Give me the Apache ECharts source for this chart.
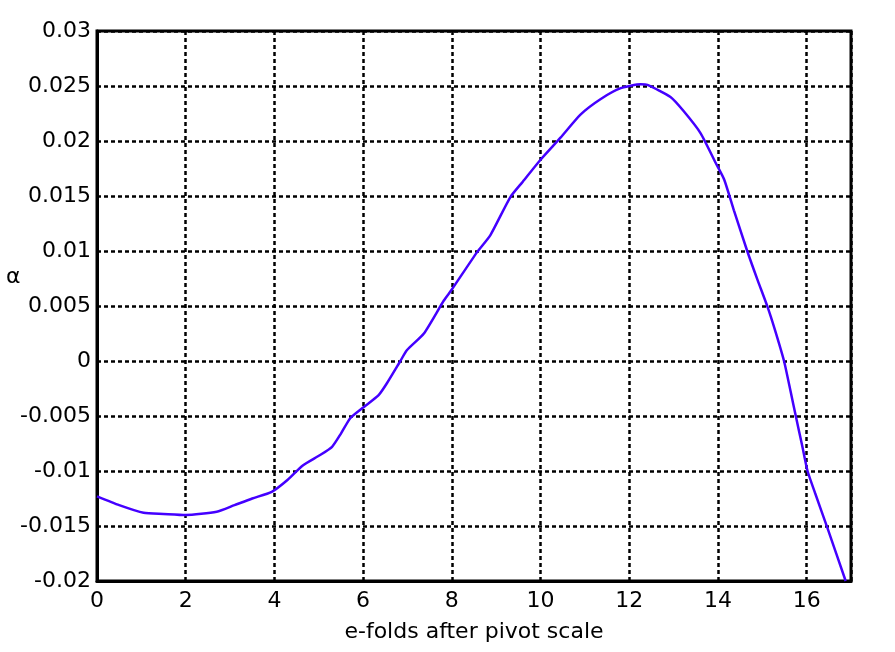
<!DOCTYPE html>
<html>
<head>
<meta charset="utf-8">
<title>alpha vs e-folds</title>
<script src="https://cdn.jsdelivr.net/npm/echarts@6/dist/echarts.min.js"></script>
<style>
  html, body { margin: 0; padding: 0; background: #fff; }
  #chart { width: 895px; height: 652px; }
</style>
</head>
<body>
<div id="chart"></div>
<script>
// e-folds after pivot scale
const efolds = [0, 0.5, 1.05, 1.5, 2.0, 2.7, 3.1, 3.5, 3.94, 4.3, 4.64, 5.03, 5.3, 5.5, 5.71,
  6.01, 6.35, 6.54, 6.84, 6.99, 7.37, 7.82, 8.0, 8.57, 8.87, 9.32, 9.6, 10.0, 10.45, 10.9,
  11.35, 11.81, 12.26, 12.41, 12.93, 13.23, 13.61, 13.95, 14.14, 14.36, 14.66, 14.89, 15.12,
  15.28, 15.49, 15.64, 15.76, 15.9, 16.02, 16.19, 16.47, 16.88]
// running alpha
const alpha = [-0.0123, -0.0131, -0.0138, -0.0139, -0.0140, -0.0137, -0.0131, -0.0125, -0.0119,
  -0.0108, -0.0095, -0.00855, -0.0078, -0.0066, -0.0052, -0.0042, -0.0031, -0.0020, 0.0, 0.0010,
  0.0025, 0.0055, 0.0065, 0.0099, 0.01145, 0.0149, 0.0163, 0.0183, 0.0203, 0.0224, 0.0238,
  0.0248, 0.02515, 0.0251, 0.0240, 0.0227, 0.0207, 0.0180, 0.0165, 0.0137, 0.0100, 0.0074,
  0.0049, 0.0029, 0.0, -0.0028, -0.0051, -0.0077, -0.0100, -0.0120, -0.0152, -0.0200]

const chart = echarts.init(document.getElementById('chart'))
const font = 'DejaVu Sans, Liberation Sans, Arial, sans-serif'

const gridLine = {
  show: true,
  lineStyle: { color: '#000', width: 2.5, type: [4, 3] }
}
const axisLine = { onZero: false, lineStyle: { color: '#000', width: 3 } }

const option = {
  backgroundColor: '#fff',
  animation: false,
  grid: {
    left: 97, right: 44, top: 31, bottom: 71,
    outerBoundsMode: 'none', containLabel: false,
    show: true, borderColor: '#000', borderWidth: 3
  },
  graphic: [{
    type: 'text',
    left: 6,
    top: 266,
    style: { text: 'α', font: '22px ' + font, fill: '#000' }
  }],
  xAxis: {
    type: 'value',
    min: 0,
    max: 17,
    interval: 2,
    name: 'e-folds after pivot scale',
    nameLocation: 'middle',
    nameGap: 40,
    nameTextStyle: { fontFamily: font, fontSize: 22, color: '#000' },
    axisLine: axisLine,
    axisTick: { show: false },
    axisLabel: { fontFamily: font, fontSize: 22, color: '#000', margin: 9, showMaxLabel: false },
    splitLine: gridLine
  },
  yAxis: {
    type: 'value',
    min: -0.02,
    max: 0.03,
    interval: 0.005,
    axisLine: axisLine,
    axisTick: { show: false },
    axisLabel: {
      fontFamily: font, fontSize: 22, color: '#000', margin: 6,
      formatter: v => String(parseFloat(v.toFixed(3)))
    },
    splitLine: gridLine
  },
  series: [{
    type: 'line',
    data: efolds.map((x, i) => [x, alpha[i]]),
    showSymbol: false,
    smooth: 0.2,
    clip: true,
    lineStyle: { color: '#4400ff', width: 2.5 }
  }]
}

chart.setOption(option)
</script>
</body>
</html>
